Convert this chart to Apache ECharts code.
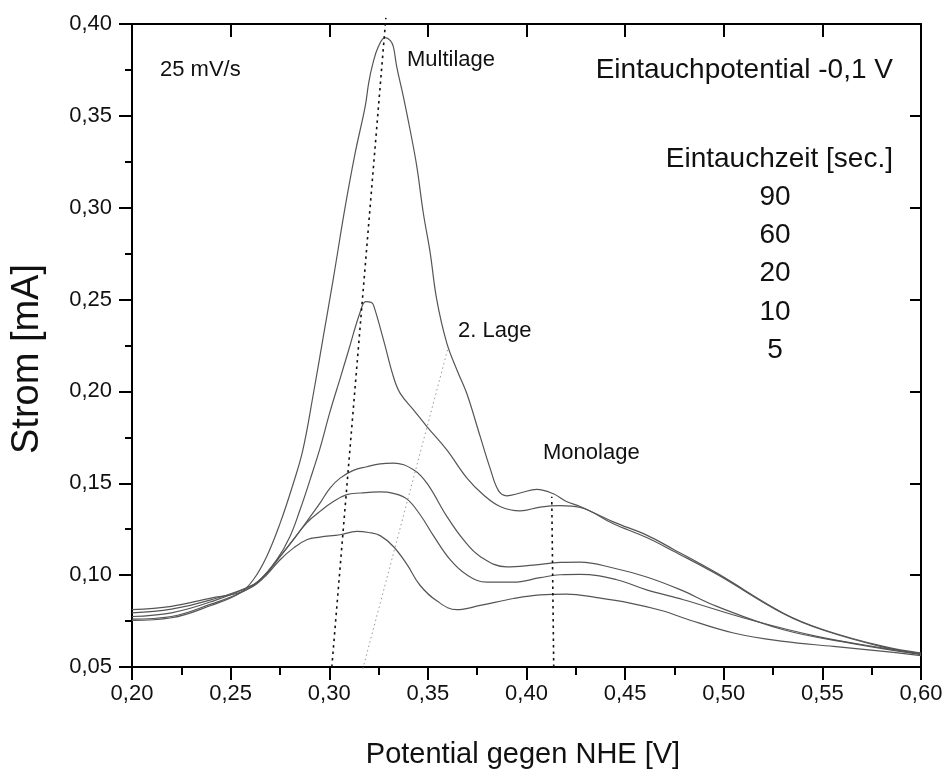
<!DOCTYPE html>
<html>
<head>
<meta charset="utf-8">
<script src="https://cdn.jsdelivr.net/npm/echarts@6/dist/echarts.min.js"></script>
<style>
html,body{margin:0;padding:0;background:#fff;}
#chart{width:946px;height:773px;}
</style>
</head>
<body>
<div id="chart"></div>
<script>
// ---- Data (Potential gegen NHE [V], Strom [mA]) ----
const xTicks = [0.20, 0.25, 0.30, 0.35, 0.40, 0.45, 0.50, 0.55, 0.60];
const yTicks = [0.05, 0.10, 0.15, 0.20, 0.25, 0.30, 0.35, 0.40];

const curve90 = [[0.200,0.0754],[0.220,0.0768],[0.240,0.0835],[0.2548,0.0903],[0.2615,0.0975],[0.2683,0.1102],[0.2751,0.1283],[0.2818,0.1500],[0.2866,0.1680],[0.2920,0.1990],[0.2970,0.2300],[0.3020,0.2610],[0.3080,0.3000],[0.3131,0.3296],[0.3182,0.3550],[0.3200,0.3680],[0.3220,0.3780],[0.3249,0.3877],[0.3283,0.3926],[0.3310,0.3910],[0.3325,0.3877],[0.3342,0.3768],[0.3376,0.3604],[0.3410,0.3423],[0.3444,0.3224],[0.3477,0.2970],[0.3511,0.2760],[0.3545,0.2500],[0.3596,0.2263],[0.3650,0.2110],[0.3697,0.1990],[0.3765,0.1755],[0.3816,0.1580],[0.3858,0.1460],[0.3900,0.1432],[0.3968,0.1447],[0.4052,0.1467],[0.4136,0.1443],[0.4202,0.1401],[0.4272,0.1374],[0.4440,0.1290],[0.4609,0.1218],[0.4746,0.1140],[0.4965,0.1011],[0.5303,0.0793],[0.5506,0.0703],[0.5810,0.0612],[0.6000,0.0576]];

const curve60 = [[0.200,0.0761],[0.220,0.0775],[0.240,0.0842],[0.2564,0.0911],[0.2649,0.0975],[0.2734,0.1084],[0.2801,0.1211],[0.2852,0.1356],[0.2903,0.1520],[0.2953,0.1690],[0.3004,0.1890],[0.3055,0.2070],[0.3097,0.2220],[0.3156,0.2430],[0.3185,0.2489],[0.3212,0.2485],[0.3224,0.2471],[0.3275,0.2281],[0.3325,0.2081],[0.3359,0.1991],[0.3427,0.1900],[0.3495,0.1809],[0.3596,0.1682],[0.3697,0.1530],[0.3781,0.1438],[0.3866,0.1374],[0.3968,0.1350],[0.4069,0.1370],[0.4171,0.1378],[0.4272,0.1368],[0.4440,0.1280],[0.4609,0.1205],[0.4746,0.1130],[0.4965,0.1005],[0.5303,0.0790],[0.5506,0.0700],[0.5810,0.0608],[0.6000,0.0572]];

const curve20 = [[0.200,0.0775],[0.220,0.0795],[0.240,0.0855],[0.2615,0.0948],[0.2683,0.1011],[0.2751,0.1102],[0.2818,0.1193],[0.2886,0.1292],[0.2953,0.1392],[0.3004,0.1474],[0.3055,0.1528],[0.3122,0.1570],[0.3190,0.1590],[0.3258,0.1606],[0.3325,0.1610],[0.3427,0.1574],[0.3495,0.1501],[0.3596,0.1320],[0.3680,0.1193],[0.3765,0.1102],[0.3900,0.1045],[0.4035,0.1055],[0.4171,0.1069],[0.4272,0.1071],[0.4440,0.1039],[0.4609,0.0990],[0.4779,0.0921],[0.4965,0.0830],[0.5303,0.0703],[0.5641,0.0630],[0.6000,0.0567]];

const curve10 = [[0.200,0.0795],[0.220,0.0815],[0.240,0.0865],[0.2615,0.0948],[0.2683,0.1011],[0.2751,0.1102],[0.2818,0.1193],[0.2886,0.1285],[0.2953,0.1347],[0.3021,0.1401],[0.3089,0.1438],[0.3156,0.1447],[0.3258,0.1453],[0.3325,0.1445],[0.3393,0.1415],[0.3460,0.1330],[0.3528,0.1215],[0.3613,0.1084],[0.3697,0.1002],[0.3799,0.0962],[0.3934,0.0962],[0.4069,0.0986],[0.4171,0.1002],[0.4272,0.1004],[0.4458,0.0975],[0.4609,0.0920],[0.4796,0.0866],[0.5134,0.0757],[0.5472,0.0667],[0.5810,0.0603],[0.6000,0.0574]];

const curve5 = [[0.200,0.0812],[0.220,0.0830],[0.240,0.0875],[0.2531,0.0900],[0.2615,0.0939],[0.2683,0.1002],[0.2751,0.1084],[0.2818,0.1147],[0.2886,0.1193],[0.2953,0.1207],[0.3055,0.1220],[0.3139,0.1238],[0.3200,0.1232],[0.3258,0.1215],[0.3325,0.1156],[0.3393,0.1060],[0.3460,0.0945],[0.3545,0.0860],[0.3646,0.0812],[0.3765,0.0835],[0.3934,0.0873],[0.4069,0.0893],[0.4204,0.0897],[0.4356,0.0878],[0.4525,0.0848],[0.4694,0.0805],[0.4796,0.0767],[0.5050,0.0685],[0.5303,0.0639],[0.5556,0.0612],[0.5810,0.0585],[0.6000,0.0562]];

// guide lines (peak positions)
const multilageLine = [[0.3013,0.0500],[0.3287,0.4033]];
const zweiteLageLine = [[0.3170,0.0490],[0.3604,0.2244]];
const monolageLine = [[0.4138,0.0500],[0.4128,0.1427]];

const legendTitle = 'Eintauchzeit [sec.]';
const legendItems = ['90', '60', '20', '10', '5'];

const FONT = "'Liberation Sans', Arial, Helvetica, sans-serif";
const fmt = v => v.toFixed(2).replace('.', ',');

const chart = echarts.init(document.getElementById('chart'), null, {renderer: 'canvas'});

function curveSeries(name, data) {
  return {
    name: name, type: 'line', data: data, showSymbol: false, symbol: 'none',
    smooth: 0.4,
    lineStyle: {color: '#555', width: 1.2},
    z: 3, silent: true
  };
}
function guideSeries(name, data, color, width, dash) {
  return {
    name: name, type: 'line', data: data, showSymbol: false, symbol: 'none',
    clip: false,
    lineStyle: {color: color, width: width, type: dash},
    z: 4, silent: true
  };
}

const axisCommonX = {
  type: 'value', min: xTicks[0], max: xTicks[xTicks.length - 1], interval: 0.05
};
const axisCommonY = {
  type: 'value', min: yTicks[0], max: yTicks[yTicks.length - 1], interval: 0.05
};

chart.setOption({
  animation: false,
  backgroundColor: '#fff',
  grid: {left: 132, right: 25, top: 24, bottom: 106, containLabel: false},
  xAxis: [
    Object.assign({}, axisCommonX, {
      position: 'bottom',
      axisLine: {show: true, lineStyle: {color: '#000', width: 2}},
      axisTick: {show: true, inside: false, length: 13, lineStyle: {color: '#000', width: 2}},
      minorTick: {show: true, splitNumber: 2, length: 8, lineStyle: {color: '#000', width: 2}},
      axisLabel: {show: true, margin: 16, fontSize: 22, color: '#111', fontFamily: FONT, formatter: fmt},
      splitLine: {show: false}
    }),
    Object.assign({}, axisCommonX, {
      position: 'top',
      axisLine: {show: true, onZero: false, lineStyle: {color: '#000', width: 2}},
      axisTick: {show: true, inside: true, length: 13, lineStyle: {color: '#000', width: 2}},
      minorTick: {show: false},
      axisLabel: {show: false},
      splitLine: {show: false}
    })
  ],
  yAxis: [
    Object.assign({}, axisCommonY, {
      position: 'left',
      axisLine: {show: true, onZero: false, lineStyle: {color: '#000', width: 2}},
      axisTick: {show: true, inside: false, length: 13, lineStyle: {color: '#000', width: 2}},
      minorTick: {show: true, splitNumber: 2, length: 7, lineStyle: {color: '#000', width: 2}},
      axisLabel: {show: true, margin: 20, fontSize: 22, color: '#111', fontFamily: FONT, formatter: fmt},
      splitLine: {show: false}
    }),
    Object.assign({}, axisCommonY, {
      position: 'right',
      axisLine: {show: true, onZero: false, lineStyle: {color: '#000', width: 2}},
      axisTick: {show: true, inside: true, length: 11, lineStyle: {color: '#000', width: 2}},
      minorTick: {show: false},
      axisLabel: {show: false},
      splitLine: {show: false}
    })
  ],
  series: [
    curveSeries('90', curve90),
    curveSeries('60', curve60),
    curveSeries('20', curve20),
    curveSeries('10', curve10),
    curveSeries('5', curve5),
    guideSeries('Multilage', multilageLine, '#111', 1.6, [2.5, 4]),
    guideSeries('2. Lage', zweiteLageLine, '#999', 1, [1.5, 3]),
    guideSeries('Monolage', monolageLine, '#111', 1.6, [2.5, 4])
  ],
  graphic: [
    {type: 'text', x: 523, y: 755, style: {text: 'Potential gegen NHE [V]', font: '29px ' + FONT, fill: '#111', align: 'center', verticalAlign: 'middle'}},
    {type: 'text', x: 28, y: 359, rotation: Math.PI / 2, style: {text: 'Strom [mA]', font: '38px ' + FONT, fill: '#111', align: 'center', verticalAlign: 'middle'}},
    {type: 'text', x: 160, y: 70, style: {text: '25 mV/s', font: '22px ' + FONT, fill: '#111', align: 'left', verticalAlign: 'middle'}},
    {type: 'text', x: 407, y: 60, style: {text: 'Multilage', font: '22px ' + FONT, fill: '#111', align: 'left', verticalAlign: 'middle'}},
    {type: 'text', x: 458, y: 331, style: {text: '2. Lage', font: '22px ' + FONT, fill: '#111', align: 'left', verticalAlign: 'middle'}},
    {type: 'text', x: 543, y: 453, style: {text: 'Monolage', font: '22px ' + FONT, fill: '#111', align: 'left', verticalAlign: 'middle'}},
    {type: 'text', x: 893, y: 70, style: {text: 'Eintauchpotential -0,1 V', font: '28px ' + FONT, fill: '#111', align: 'right', verticalAlign: 'middle'}},
    {type: 'text', x: 893, y: 159, style: {text: legendTitle, font: '28px ' + FONT, fill: '#111', align: 'right', verticalAlign: 'middle'}}
  ].concat(legendItems.map((t, i) => ({
    type: 'text', x: 775, y: 197 + i * 38.3,
    style: {text: t, font: '28px ' + FONT, fill: '#111', align: 'center', verticalAlign: 'middle'}
  })))
});
</script>
</body>
</html>
